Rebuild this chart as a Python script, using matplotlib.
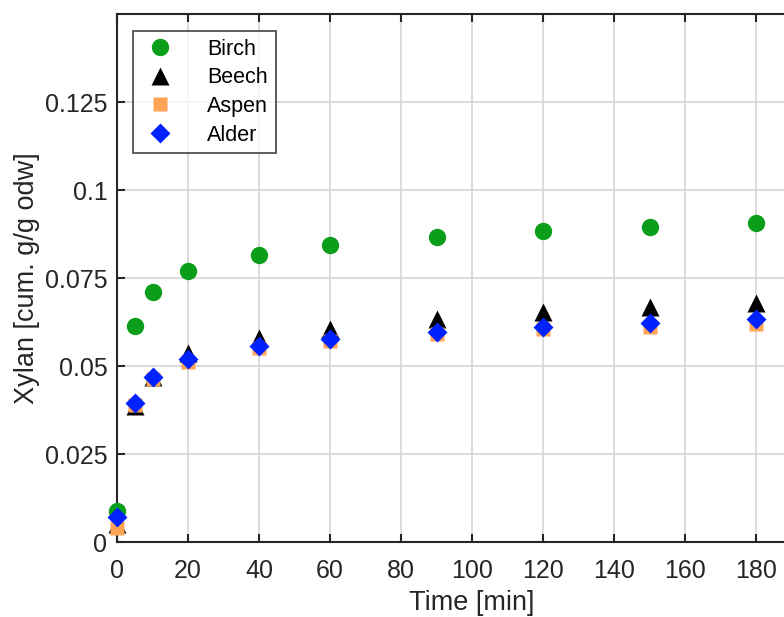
import numpy as np
import matplotlib
matplotlib.use('Agg')
from matplotlib import pyplot as plt

plt.rcParams['font.family'] = ['Liberation Sans', 'DejaVu Sans']

# Cumulative xylan release over time for four hardwoods
time = [0, 5, 10, 20, 40, 60, 90, 120, 150, 180]
birch = [0.0088, 0.0614, 0.0711, 0.0771, 0.0816, 0.0843, 0.0866, 0.0884, 0.0896, 0.0906]
beech = [0.0050, 0.0385, 0.0468, 0.0537, 0.0580, 0.0605, 0.0633, 0.0654, 0.0667, 0.0679]
aspen = [0.0040, 0.0390, 0.0462, 0.0512, 0.0550, 0.0570, 0.0590, 0.0605, 0.0612, 0.0620]
alder = [0.0070, 0.0395, 0.0470, 0.0519, 0.0558, 0.0577, 0.0598, 0.0612, 0.0622, 0.0633]

xticks = [0, 20, 40, 60, 80, 100, 120, 140, 160, 180]
yticks = [0, 0.025, 0.05, 0.075, 0.1, 0.125]
yticklabels = ['0', '0.025', '0.05', '0.075', '0.1', '0.125']

fig = plt.figure(figsize=(7.84, 6.17), dpi=100)
# axes run past the right edge of the figure
ax = fig.add_axes([117 / 784, (617 - 542) / 617, 710 / 784, 528 / 617])

kw = dict(mec='none', zorder=3, clip_on=False, ls='none')
ax.plot(time, birch, 'o', color='#0a9e1a', ms=12.5, label='Birch', **kw)
ax.plot(time, beech, '^', color='black', ms=13, label='Beech', **kw)
ax.plot(time, aspen, 's', color='#ffa355', ms=9.5, label='Aspen', **kw)
ax.plot(time, alder, 'D', color='#0022ff', ms=10.5, label='Alder', **kw)

ax.set_xlim(0, 200)
ax.set_ylim(0, 0.15)
ax.set_xticks(xticks)
ax.set_yticks(yticks)
ax.set_yticklabels(yticklabels)
ax.grid(True, color='#d6d6d6', lw=1.2)
ax.set_axisbelow(True)

for s in ax.spines.values():
    s.set_color('#262626')
    s.set_linewidth(1.5)
ax.tick_params(direction='in', length=6, width=1.5, color='#262626',
               labelsize=18, labelcolor='#262626', top=True, right=True)
ax.tick_params(axis='x', pad=12)
ax.tick_params(axis='y', pad=7)

ax.set_xlabel('Time [min]', fontsize=19.5, color='#262626', labelpad=5)
ax.set_ylabel('Xylan [cum. g/g odw]', fontsize=19.5, color='#262626', labelpad=3)

leg = ax.legend(loc='upper left', bbox_to_anchor=(0.0225, 0.967), fontsize=15.5,
                frameon=True, fancybox=False, edgecolor='#262626',
                borderpad=0.35, labelspacing=0.35, handletextpad=1.3,
                handlelength=1.8, borderaxespad=0)
leg.get_frame().set_linewidth(1.3)

fig.savefig('out.png', dpi=100)
